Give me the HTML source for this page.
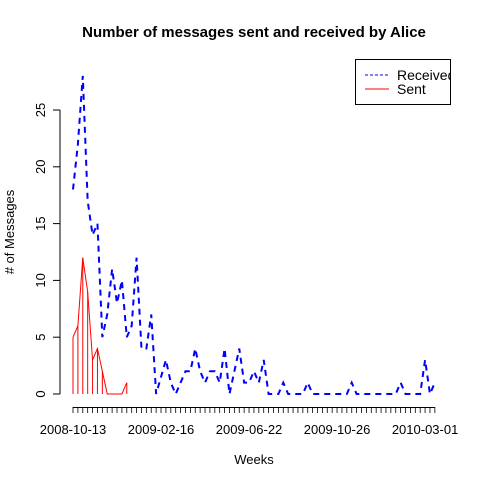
<!DOCTYPE html>
<html><head><meta charset="utf-8"><style>
html,body{margin:0;padding:0;background:#fff;}
svg{display:block;font-family:"Liberation Sans",Arial,sans-serif;}
</style></head><body>
<svg id="chart" width="480" height="480" viewBox="0 0 480 480">
<rect width="480" height="480" fill="#fff"/>
<text x="254" y="37" text-anchor="middle" font-size="15" font-weight="bold">Number of messages sent and received by Alice</text>
<text x="254" y="464" text-anchor="middle" font-size="13">Weeks</text>
<text transform="translate(14,232) rotate(-90)" text-anchor="middle" font-size="13"># of Messages</text>
<g id="yaxis"></g>
<g id="xaxis"></g>
<g id="series"></g>
<g>
<rect x="355.5" y="59.5" width="95" height="45" fill="#fff" stroke="#000"/>
<line x1="365" y1="75" x2="389" y2="75" stroke="#0000ff" stroke-dasharray="3,2"/>
<line x1="365" y1="89" x2="389" y2="89" stroke="#ff0000"/>
<svg x="0" y="0" width="450" height="480" overflow="hidden"><text x="397" y="80" font-size="14">Received</text></svg>
<text x="397" y="94" font-size="14">Sent</text>
</g>
</svg>
<script>
const received = [18,22,28,17,14,15,5,7,11,8,10,5,6,12,4,4,7,0,1.5,3,1,0,1,2,2,4,2,1,2,2,1,4,0,2,4,1,1,2,1,3,0,0,0,1,0,0,0,0,1,0,0,0,0,0,0,0,0,1,0,0,0,0,0,0,0,0,0,1,0,0,0,0,3,0,1];
const sent = [5,6,12,9,3,4,2,0,0,0,0,1];
const yTicks = [0,5,10,15,20,25];
const xLabels = ["2008-10-13","2009-02-16","2009-06-22","2009-10-26","2010-03-01"];
const xLabelIdx = [0,18,36,54,72];

const NS="http://www.w3.org/2000/svg";
const xs = i => 73 + i*4.89;
const ys = v => 394 - v*11.36;
function mk(tag, attrs, parent){const e=document.createElementNS(NS,tag);for(const k in attrs)e.setAttribute(k,attrs[k]);parent.appendChild(e);return e;}
const yg=document.getElementById('yaxis'), xg=document.getElementById('xaxis'), sg=document.getElementById('series');

let l=mk('line',{x1:60,y1:ys(0),x2:60,y2:ys(25),stroke:'#000'},yg);


yTicks.forEach(v=>{
  const t=mk('line',{x1:53,y1:ys(v),x2:60,y2:ys(v),stroke:'#000'},yg);
  
  
  const tx=mk('text',{transform:`translate(45,${ys(v)}) rotate(-90)`,'text-anchor':'middle','font-size':13},yg);
  tx.textContent=v;
  
  
});

l=mk('line',{x1:xs(0),y1:407.5,x2:xs(received.length-1),y2:407.5,stroke:'#000'},xg);


received.forEach((v,i)=>{
  const t=mk('line',{x1:xs(i),y1:407,x2:xs(i),y2:413,stroke:'#000','stroke-width':0.8},xg);
  
  
});
xLabels.forEach((s,k)=>{
  const tx=mk('text',{x:xs(xLabelIdx[k]),y:434,'text-anchor':'middle','font-size':13},xg);
  tx.textContent=s;
  
  
});

let p=mk('polyline',{points:received.map((v,i)=>xs(i)+','+ys(v)).join(' '),fill:'none',stroke:'#0000ff','stroke-width':2,'stroke-dasharray':'6,5'},sg);


sent.forEach((v,i)=>{
  const b=mk('line',{x1:xs(i),y1:ys(0),x2:xs(i),y2:ys(v),stroke:'#ff0000','stroke-width':1},sg);
  
  
});
p=mk('polyline',{points:sent.map((v,i)=>xs(i)+','+ys(v)).join(' '),fill:'none',stroke:'#ff0000','stroke-width':1},sg);


</script>
</body></html>
